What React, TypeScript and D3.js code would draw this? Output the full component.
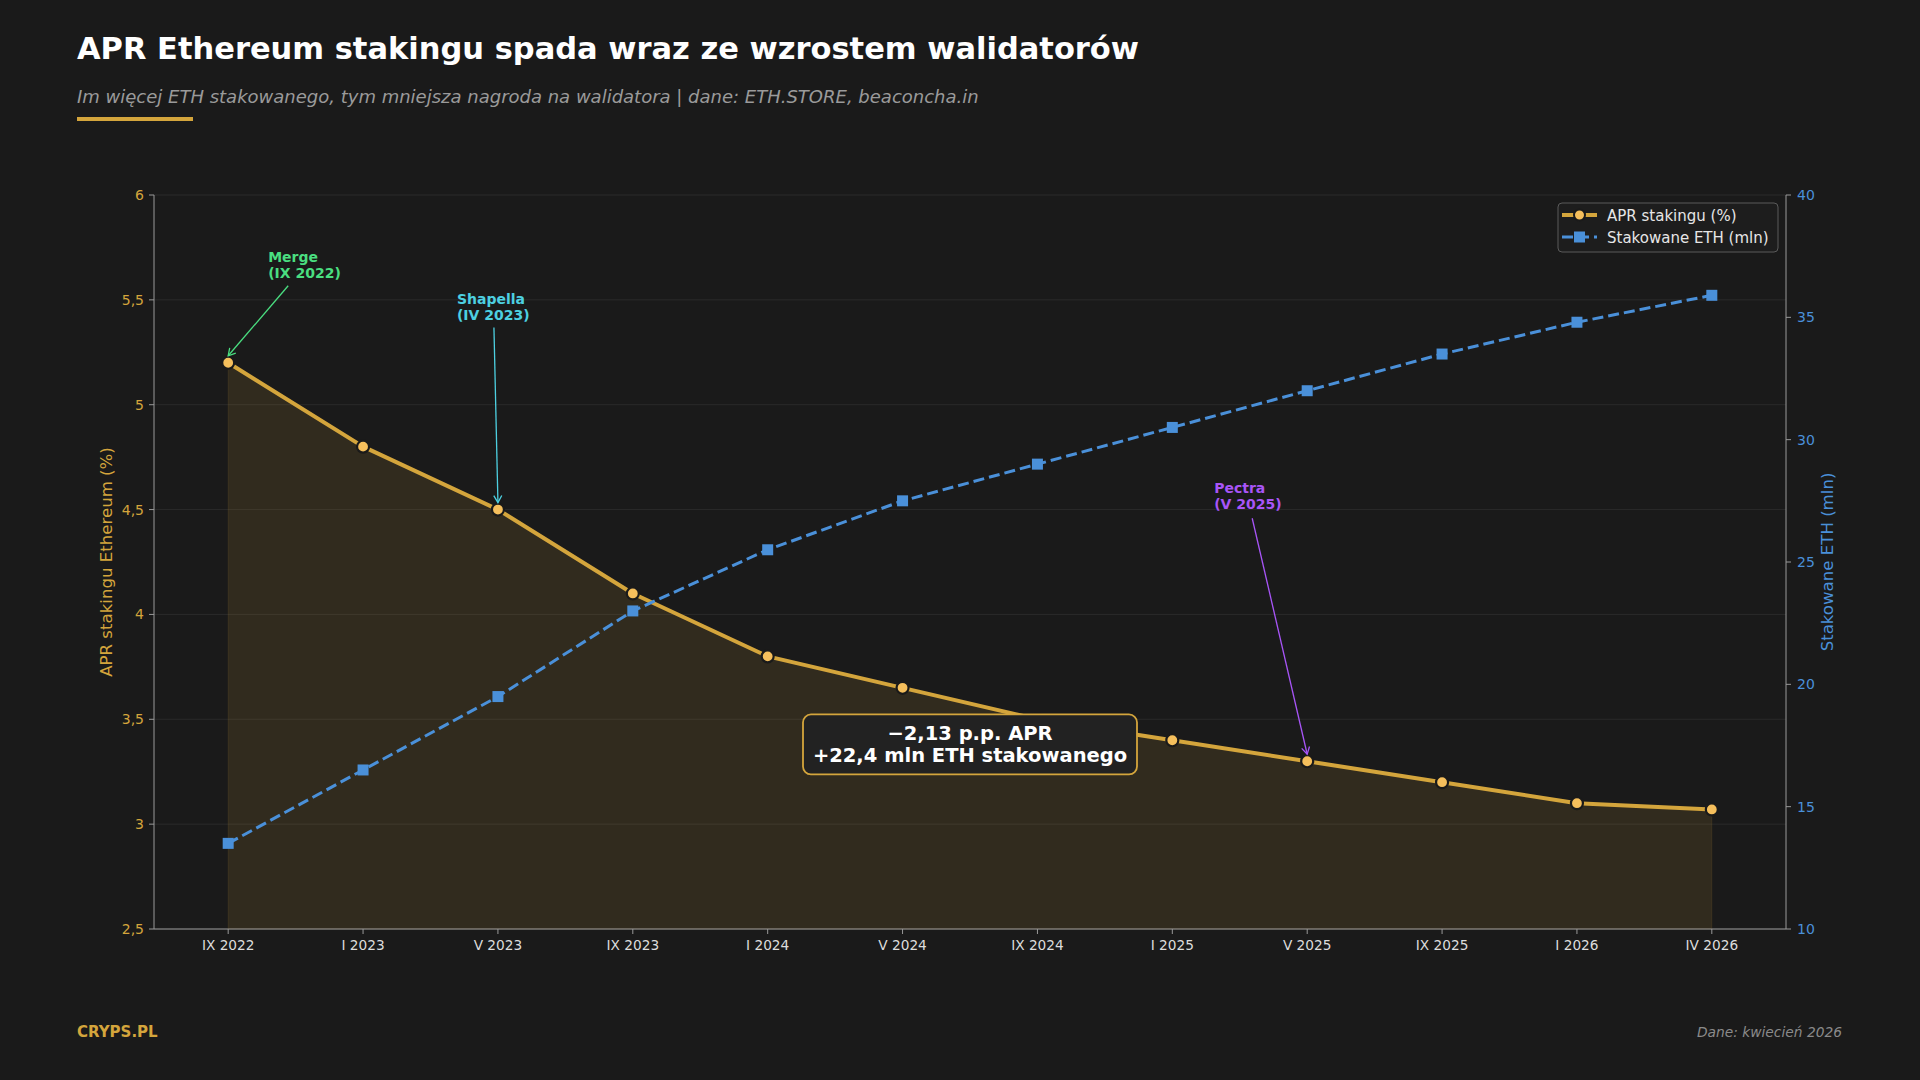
import * as d3 from "d3";

const periods = ["IX 2022", "I 2023", "V 2023", "IX 2023", "I 2024", "V 2024", "IX 2024", "I 2025", "V 2025", "IX 2025", "I 2026", "IV 2026"];
const aprValues = [5.2, 4.8, 4.5, 4.1, 3.8, 3.65, 3.5, 3.4, 3.3, 3.2, 3.1, 3.07];
const stakedEth = [13.5, 16.5, 19.5, 23.0, 25.5, 27.5, 29.0, 30.5, 32.0, 33.5, 34.8, 35.9];
const aprTicks = [2.5, 3, 3.5, 4, 4.5, 5, 5.5, 6];
const ethTicks = [10, 15, 20, 25, 30, 35, 40];

const events = [
  { idx: 0, name: "Merge", date: "(IX 2022)", color: "#4ade80", tx: 40, ty: -106, ax: 60, ay: -77 },
  { idx: 2, name: "Shapella", date: "(IV 2023)", color: "#4dd0e1", tx: -41, ty: -211, ax: -4, ay: -182 },
  { idx: 8, name: "Pectra", date: "(V 2025)", color: "#a855f7", tx: -93, ty: -273, ax: -55, ay: -243 },
];

const GOLD = "#d4a53c";
const BLUE = "#4a90d9";
const FONT = "'DejaVu Sans', sans-serif";

const fmt = (v: number) => String(v).replace(".", ",");

export default function App() {
  const W = 1920;
  const H = 1080;
  const plot = { left: 154, right: 1786, top: 195, bottom: 929 };

  const x = d3.scalePoint<string>().domain(periods).range([plot.left, plot.right]).padding(0.55);
  const yL = d3.scaleLinear().domain([2.5, 6]).range([plot.bottom, plot.top]);
  const yR = d3.scaleLinear().domain([10, 40]).range([plot.bottom, plot.top]);

  const aprPts = periods.map((p, i) => [x(p)!, yL(aprValues[i])] as [number, number]);
  const ethPts = periods.map((p, i) => [x(p)!, yR(stakedEth[i])] as [number, number]);

  const line = d3.line();
  const area = d3
    .area<[number, number]>()
    .x((d) => d[0])
    .y0(yL(2.5))
    .y1((d) => d[1]);

  const boxCx = (x(periods[5])! + x(periods[6])!) / 2;
  const boxCy = yL(3.38);

  return (
    <svg width={W} height={H} style={{ position: "absolute", left: 0, top: 0, background: "#1a1a1a" }} fontFamily={FONT}>
      <defs>
        {events.map((e) => (
          <marker key={e.name} id={`arr-${e.name}`} viewBox="-10 -6 12 12" markerWidth={12} markerHeight={12} markerUnits="userSpaceOnUse" orient="auto" refX={0} refY={0}>
            <path d="M-7,-4 L0,0 L-7,4" fill="none" stroke={e.color} strokeWidth={1.3} />
          </marker>
        ))}
      </defs>
      <rect width={W} height={H} fill="#1a1a1a" />

      {/* header */}
      <text x={77} y={59} fill="#ffffff" fontSize={30.5} fontWeight="bold">
        APR Ethereum stakingu spada wraz ze wzrostem walidatorów
      </text>
      <text x={77} y={103} fill="#9a9a9a" fontSize={18} fontStyle="italic">
        Im więcej ETH stakowanego, tym mniejsza nagroda na walidatora | dane: ETH.STORE, beaconcha.in
      </text>
      <rect x={77} y={117} width={116} height={4} fill={GOLD} />

      {/* grid */}
      {aprTicks.map((t) => (
        <line key={t} x1={plot.left} x2={plot.right} y1={yL(t)} y2={yL(t)} stroke="#2a2a2a" strokeWidth={1} />
      ))}

      {/* APR area + line */}
      <path d={area(aprPts)!} fill={GOLD} fillOpacity={0.13} stroke={GOLD} strokeOpacity={0.1} strokeWidth={1} />
      <path d={line(aprPts)!} fill="none" stroke={GOLD} strokeWidth={4} strokeLinejoin="round" />
      {aprPts.map((p, i) => (
        <circle key={i} cx={p[0]} cy={p[1]} r={6} fill="#f5bf5c" stroke="#1a1a1a" strokeWidth={2.2} />
      ))}

      {/* summary box */}
      <rect x={boxCx - 167} y={boxCy - 30} width={334} height={60} rx={8} fill="#222222" stroke={GOLD} strokeWidth={1.8} />
      <text x={boxCx} y={boxCy - 11} textAnchor="middle" dominantBaseline="central" fill="#ffffff" fontSize={19.5} fontWeight="bold">
        −2,13 p.p. APR
      </text>
      <text x={boxCx} y={boxCy + 11} textAnchor="middle" dominantBaseline="central" fill="#ffffff" fontSize={19.5} fontWeight="bold">
        +22,4 mln ETH stakowanego
      </text>

      {/* ETH line */}
      <path d={line(ethPts)!} fill="none" stroke={BLUE} strokeWidth={3} strokeDasharray="11,5" />
      {ethPts.map((p, i) => (
        <rect key={i} x={p[0] - 5.5} y={p[1] - 5.5} width={11} height={11} fill={BLUE} />
      ))}

      {/* event annotations */}
      {events.map((e) => {
        const [px, py] = aprPts[e.idx];
        return (
          <g key={e.name} fill={e.color} fontSize={14} fontWeight="bold">
            <text x={px + e.tx} y={py + e.ty} dominantBaseline="central">{e.name}</text>
            <text x={px + e.tx} y={py + e.ty + 16} dominantBaseline="central">{e.date}</text>
            <line x1={px + e.ax} y1={py + e.ay} x2={px} y2={py - 7} stroke={e.color} strokeWidth={1.3} markerEnd={`url(#arr-${e.name})`} />
          </g>
        );
      })}

      {/* axes */}
      <line x1={plot.left} x2={plot.left} y1={plot.top} y2={plot.bottom} stroke="#999" strokeWidth={1} />
      <line x1={plot.right} x2={plot.right} y1={plot.top} y2={plot.bottom} stroke="#999" strokeWidth={1} />
      <line x1={plot.left} x2={plot.right} y1={plot.bottom} y2={plot.bottom} stroke="#999" strokeWidth={1} />

      {aprTicks.map((t) => (
        <g key={t}>
          <line x1={plot.left - 5} x2={plot.left} y1={yL(t)} y2={yL(t)} stroke="#999" />
          <text x={plot.left - 10} y={yL(t)} textAnchor="end" dominantBaseline="central" fill={GOLD} fontSize={14}>
            {fmt(t)}
          </text>
        </g>
      ))}
      {ethTicks.map((t) => (
        <g key={t}>
          <line x1={plot.right} x2={plot.right + 5} y1={yR(t)} y2={yR(t)} stroke="#999" />
          <text x={plot.right + 11} y={yR(t)} dominantBaseline="central" fill={BLUE} fontSize={14}>
            {t}
          </text>
        </g>
      ))}
      {periods.map((p) => (
        <g key={p}>
          <line x1={x(p)!} x2={x(p)!} y1={plot.bottom} y2={plot.bottom + 5} stroke="#999" />
          <text x={x(p)!} y={plot.bottom + 16} textAnchor="middle" dominantBaseline="central" fill="#dddddd" fontSize={13.7}>
            {p}
          </text>
        </g>
      ))}

      <text transform={`translate(106,${(plot.top + plot.bottom) / 2}) rotate(-90)`} textAnchor="middle" dominantBaseline="central" fill={GOLD} fontSize={16.6}>
        APR stakingu Ethereum (%)
      </text>
      <text transform={`translate(1827,${(plot.top + plot.bottom) / 2}) rotate(-90)`} textAnchor="middle" dominantBaseline="central" fill={BLUE} fontSize={16.6}>
        Stakowane ETH (mln)
      </text>

      {/* legend */}
      <g>
        <rect x={1558} y={203} width={220} height={49} rx={4} fill="#1e1e1e" fillOpacity={0.9} stroke="#5a5a5a" strokeWidth={1} />
        <line x1={1562} x2={1597} y1={215} y2={215} stroke={GOLD} strokeWidth={4} />
        <circle cx={1579.5} cy={215} r={5.5} fill="#f5bf5c" stroke="#1a1a1a" strokeWidth={2} />
        <text x={1607} y={215.5} dominantBaseline="central" fill="#e6e6e6" fontSize={15}>APR stakingu (%)</text>
        <line x1={1562} x2={1597} y1={237} y2={237} stroke={BLUE} strokeWidth={3} strokeDasharray="11,5" />
        <rect x={1574} y={231.5} width={11} height={11} fill={BLUE} />
        <text x={1607} y={237.5} dominantBaseline="central" fill="#e6e6e6" fontSize={15}>Stakowane ETH (mln)</text>
      </g>

      {/* footer */}
      <text x={77} y={1032} dominantBaseline="central" fill={GOLD} fontSize={15} fontWeight="bold">CRYPS.PL</text>
      <text x={1842} y={1032} textAnchor="end" dominantBaseline="central" fill="#8a8a8a" fontSize={13.8} fontStyle="italic">
        Dane: kwiecień 2026
      </text>
    </svg>
  );
}
